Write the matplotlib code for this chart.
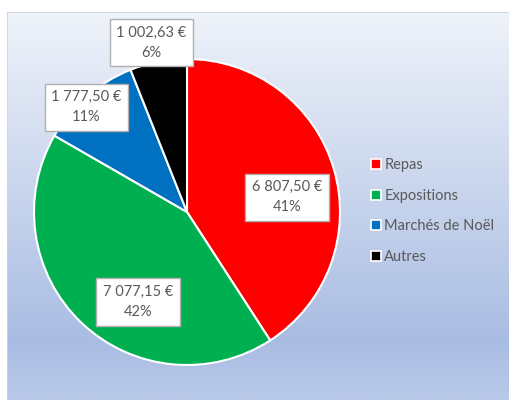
import numpy as np
import matplotlib.pyplot as plt
from matplotlib.lines import Line2D
from matplotlib.colors import LinearSegmentedColormap

categories = ['Repas', 'Expositions', 'Marchés de Noël', 'Autres']
montants = [6807.50, 7077.15, 1777.50, 1002.63]
colors = ['#FF0000', '#00B050', '#0070C0', '#000000']

# label placement (radius factor, angle shift in degrees)
label_r = [0.66, 0.67, 0.95, 1.13]
label_shift = [-8, 15, 3, 1]

txt_color = '#595959'
font = 'Lato'


def fmt_euro(v):
    s = '{:,.2f}'.format(v)
    return s.replace(',', ' ').replace('.', ',') + ' €'


W, H = 509, 400
fig = plt.figure(figsize=(W / 100, H / 100), dpi=100)

# gradient background of the chart area
bg = fig.add_axes([7 / W, 0, 1 - 7 / W, 388 / H])
cmap = LinearSegmentedColormap.from_list(
    'bg', [(0, '#B9C9E9'), (0.15, '#A9BCE2'), (1, '#EFF3FA')])
grad = np.linspace(0, 1, 256).reshape(-1, 1)
bg.imshow(grad, aspect='auto', cmap=cmap, origin='lower', extent=[0, 1, 0, 1])
bg.plot([0, 0, 1], [0, 1, 1], color='#D0D4DA', lw=1.2)
bg.set_xlim(0, 1)
bg.set_ylim(0, 1)
bg.axis('off')

cx, cy, r = 187, 212, 153
ax = fig.add_axes([(cx - r) / W, (H - cy - r) / H, 2 * r / W, 2 * r / H])
wedges, _ = ax.pie(montants, colors=colors, startangle=90, counterclock=False,
                   wedgeprops=dict(edgecolor='white', linewidth=1.5))
ax.set_xlim(-1, 1)
ax.set_ylim(-1, 1)
ax.axis('off')

total = sum(montants)
for w, v, lr, sh in zip(wedges, montants, label_r, label_shift):
    mid = np.deg2rad((w.theta1 + w.theta2) / 2 + sh)
    x, y = lr * np.cos(mid), lr * np.sin(mid)
    ax.text(x, y, '{}\n{:.0f}%'.format(fmt_euro(v), 100 * v / total),
            ha='center', va='center', fontsize=10.5, family=font, color=txt_color,
            linespacing=1.55,
            bbox=dict(boxstyle='square,pad=0.45', fc='white', ec='#B0B0B0', lw=1))

handles = [Line2D([], [], marker='s', ls='', markersize=7, markerfacecolor=c,
                  markeredgecolor='white', markeredgewidth=1.2) for c in colors]
fig.legend(handles, categories, loc='center left', bbox_to_anchor=(358 / W, 1 - 211 / H),
           frameon=False, handlelength=0.6, handletextpad=0.3, labelspacing=1.15,
           prop=dict(family=font, size=10.5), labelcolor=txt_color)

fig.savefig('out.png', dpi=100, facecolor='white')
